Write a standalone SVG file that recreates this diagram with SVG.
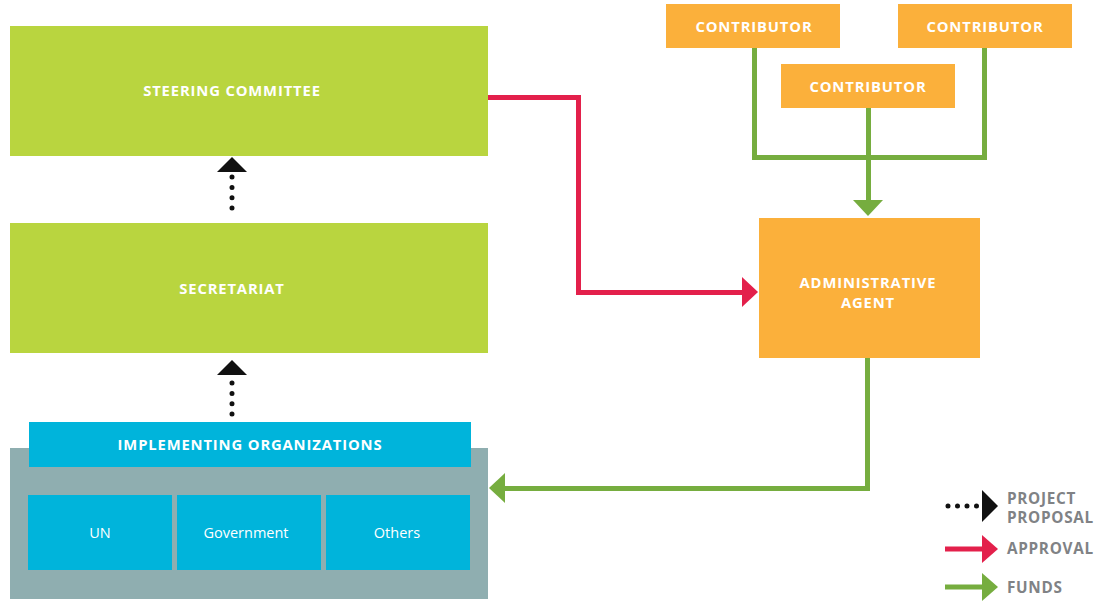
<svg xmlns="http://www.w3.org/2000/svg" width="1098" height="602" viewBox="0 0 1098 602">
<style>
.g{fill:#b9d53f}.o{fill:#fbb03b}.b{fill:#00b4db}.gr{fill:#8faeb0}
.t{font-family:"Open Sans","Liberation Sans",sans-serif;font-weight:700;font-size:14.8px;fill:#fff;text-anchor:middle;letter-spacing:0.85px}
.s{font-family:"Open Sans","Liberation Sans",sans-serif;font-size:14.5px;fill:#fff;text-anchor:middle}
.l{font-family:"Open Sans","Liberation Sans",sans-serif;font-weight:700;font-size:15.3px;fill:#808285;letter-spacing:0.7px}
.red{stroke:#e3204b;stroke-width:5;fill:none}
.grn{stroke:#76ad3f;stroke-width:5;fill:none}
.dot{stroke:#111;stroke-width:5;stroke-linecap:round;stroke-dasharray:0 10.3;fill:none}
</style>
<rect width="1098" height="602" fill="#fff"/>
<g id="steering"><rect class="g" x="10" y="26" width="478" height="130"/><text class="t" x="232" y="96">STEERING COMMITTEE</text></g>
<g id="secretariat"><rect class="g" x="10" y="223" width="478" height="130"/><text class="t" x="232" y="294">SECRETARIAT</text></g>
<g id="implementing">
<rect class="gr" x="10" y="448" width="478" height="151"/>
<rect class="b" x="29" y="422" width="442" height="45"/><text class="t" x="250" y="450">IMPLEMENTING ORGANIZATIONS</text>
</g>
<g id="un"><rect class="b" x="28" y="495" width="144" height="75"/><text class="s" x="100" y="538">UN</text></g>
<g id="government"><rect class="b" x="177" y="495" width="144" height="75"/><text class="s" x="246" y="538">Government</text></g>
<g id="others"><rect class="b" x="326" y="495" width="144" height="75"/><text class="s" x="397" y="538">Others</text></g>
<g id="contributor1"><rect class="o" x="666" y="4" width="174" height="44"/><text class="t" x="754" y="32">CONTRIBUTOR</text></g>
<g id="contributor2"><rect class="o" x="898" y="4" width="174" height="44"/><text class="t" x="985" y="32">CONTRIBUTOR</text></g>
<g id="contributor3"><rect class="o" x="781" y="64" width="174" height="44"/><text class="t" x="868" y="92">CONTRIBUTOR</text></g>
<g id="admin"><rect class="o" x="759" y="218" width="221" height="140"/><text class="t" x="868" y="288">ADMINISTRATIVE</text><text class="t" x="868" y="308">AGENT</text></g>
<g id="connectors">
<path class="dot" d="M232 208 L232 176"/><polygon points="217,172 247,172 232,157" fill="#111"/>
<path class="dot" d="M232 414 L232 380"/><polygon points="217,375 247,375 232,360" fill="#111"/>
<path class="red" d="M488 97.5 H578.5 V292.5 H744"/><polygon points="742,277 742,307 758,292" fill="#e3204b"/>
<path class="grn" d="M754.5 48 V157.5 H984.5 V48"/>
<path class="grn" d="M868.5 108 V201"/><polygon points="853,200 883,200 868,216" fill="#76ad3f"/>
<path class="grn" d="M867.5 358 V488.5 H503"/><polygon points="505,473 505,503 489,488" fill="#76ad3f"/>
</g>
<g id="legend">
<path class="dot" d="M948 506 L980 506" style="stroke-dasharray:0 9.5"/><polygon points="982,490 982,522 998,506" fill="#111"/>
<path class="red" d="M945 549 H984"/><polygon points="982,535 982,563 998,549" fill="#e3204b"/>
<path class="grn" d="M945 587 H984"/><polygon points="982,573 982,601 998,587" fill="#76ad3f"/>
<text class="l" x="1007" y="503.5">PROJECT</text><text class="l" x="1007" y="522.5">PROPOSAL</text>
<text class="l" x="1007" y="554">APPROVAL</text><text class="l" x="1007" y="593">FUNDS</text>
</g>
</svg>
